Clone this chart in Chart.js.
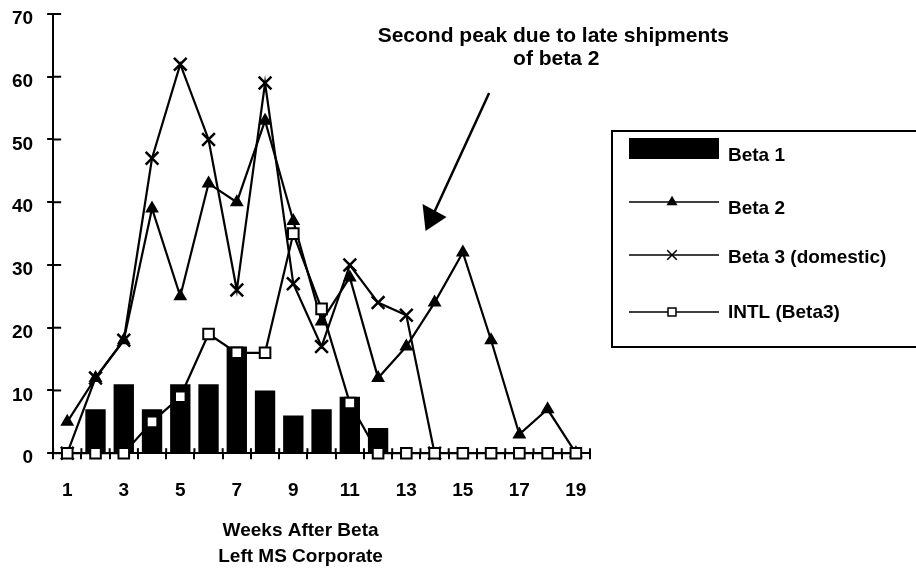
<!DOCTYPE html>
<html>
<head>
<meta charset="utf-8">
<script src="https://cdn.jsdelivr.net/npm/chart.js@4/dist/chart.umd.min.js"></script>
<style>
  html, body { margin: 0; padding: 0; background: #fff; }
</style>
</head>
<body>
<canvas id="myChart" width="916" height="577"></canvas>
<script>
const weeks = ['1', '2', '3', '4', '5', '6', '7', '8', '9', '10', '11', '12', '13', '14', '15', '16', '17', '18', '19'];
const beta1 = [null, 7, 11, 7, 11, 11, 17, 10, 6, 7, 9, 4, null, null, null, null, null, null, null];
const beta2 = [5, 12, 18, 39, 25, 43, 40, 53, 37, 21, 28, 12, 17, 24, 32, 18, 3, 7, 0];
const beta3 = [0, 12, 18, 47, 62, 50, 26, 59, 27, 17, 30, 24, 22, 0, null, null, null, null, null];
const intl = [0, 0, 0, 5, 9, 19, 16, 16, 35, 23, 8, 0, 0, 0, 0, 0, 0, 0, 0];
const yTicks = [0, 10, 20, 30, 40, 50, 60, 70];
const note = ['Second peak due to late shipments', 'of beta 2'];
const axisTitle = ['Weeks After Beta', 'Left MS Corporate'];

const FONT = '"Liberation Sans", Arial, Helvetica, sans-serif';

function line(ctx, x1, y1, x2, y2) {
    ctx.beginPath();
    ctx.moveTo(x1, y1);
    ctx.lineTo(x2, y2);
    ctx.stroke();
}

// tick marks inside the axes, annotation, axis title and boxed legend
const extras = {
    id: 'extras',
    afterDraw(chart) {
        const ctx = chart.ctx;
        const x = chart.scales.x;
        const y = chart.scales.y;
        const area = chart.chartArea;
        ctx.save();
        ctx.strokeStyle = '#000';
        ctx.fillStyle = '#000';
        ctx.lineWidth = 2;

        yTicks.forEach(v => {
            const py = y.getPixelForValue(v);
            line(ctx, area.left, py, area.left + 8, py);
        });
        for (let i = 0; i <= weeks.length; i++) {
            const px = x.getPixelForValue(i - 0.5);
            line(ctx, px, area.bottom, px, area.bottom - 5);
        }

        // annotation text
        ctx.font = 'bold 21px ' + FONT;
        ctx.textAlign = 'center';
        ctx.textBaseline = 'middle';
        const tx = x.getPixelForValue(17.2);
        ctx.fillText(note[0], tx, y.getPixelForValue(66.5));
        ctx.fillText(note[1], tx + 3, y.getPixelForValue(62.8));

        // arrow
        const sx = x.getPixelForValue(14.93), sy = y.getPixelForValue(57.4);
        const ex = x.getPixelForValue(12.68), ey = y.getPixelForValue(35.4);
        ctx.lineWidth = 2.5;
        const ang = Math.atan2(ey - sy, ex - sx);
        line(ctx, sx, sy, ex - 12 * Math.cos(ang), ey - 12 * Math.sin(ang));
        ctx.beginPath();
        ctx.moveTo(ex, ey);
        ctx.lineTo(ex - 3, ey - 27);
        ctx.lineTo(ex + 21, ey - 14);
        ctx.closePath();
        ctx.fill();

        // x axis title
        ctx.font = 'bold 19px ' + FONT;
        const cx = (area.left + area.right) / 2 - 21;
        ctx.fillText(axisTitle[0], cx, area.bottom + 78);
        ctx.fillText(axisTitle[1], cx, area.bottom + 104);

        // legend
        const lx = area.right + 22;
        const ly = area.top + 117;
        ctx.lineWidth = 2;
        ctx.strokeRect(lx, ly, 340, 216);
        ctx.textAlign = 'left';
        const rows = [17, 71, 124, 181];
        const textOff = [8, 7, 3, 1];
        chart.data.datasets.forEach((ds, i) => {
            const ry = ly + rows[i];
            if (ds.type === 'bar') {
                ctx.fillStyle = '#000';
                ctx.fillRect(lx + 17, ry - 10, 90, 21);
            } else {
                ctx.strokeStyle = '#000';
                ctx.lineWidth = 1.5;
                line(ctx, lx + 17, ry, lx + 107, ry);
                ctx.fillStyle = ds.pointBackgroundColor;
                Chart.helpers.drawPoint(ctx, {
                    pointStyle: ds.pointStyle,
                    radius: ds.pointRadius * 0.75,
                    borderWidth: 1.5
                }, lx + 60, ry);
            }
            ctx.fillStyle = '#000';
            ctx.fillText(ds.label, lx + 116, ry + textOff[i]);
        });
        ctx.restore();
    }
};

const ctx = document.getElementById('myChart').getContext('2d');
const myChart = new Chart(ctx, {
    type: 'bar',
    data: {
        labels: weeks,
        datasets: [{
            type: 'bar',
            label: 'Beta 1',
            data: beta1,
            backgroundColor: '#000',
            barPercentage: 0.72,
            categoryPercentage: 1,
            order: 4
        }, {
            type: 'line',
            label: 'Beta 2',
            data: beta2,
            borderColor: '#000',
            borderWidth: 2.2,
            pointStyle: 'triangle',
            pointRadius: 6.5,
            pointBackgroundColor: '#000',
            pointBorderColor: '#000',
            pointBorderWidth: 1.5,
            clip: false,
            order: 3
        }, {
            type: 'line',
            label: 'Beta 3 (domestic)',
            data: beta3,
            borderColor: '#000',
            borderWidth: 2.2,
            pointStyle: 'crossRot',
            pointRadius: 9,
            pointBackgroundColor: '#000',
            pointBorderColor: '#000',
            pointBorderWidth: 2.5,
            clip: false,
            order: 2
        }, {
            type: 'line',
            label: 'INTL (Beta3)',
            data: intl,
            borderColor: '#000',
            borderWidth: 2.2,
            pointStyle: 'rect',
            pointRadius: 7.5,
            pointBackgroundColor: '#fff',
            pointBorderColor: '#000',
            pointBorderWidth: 2,
            clip: false,
            order: 1
        }]
    },
    options: {
        responsive: false,
        animation: false,
        layout: {
            padding: { left: -2, top: 14, right: 326, bottom: 55 }
        },
        plugins: {
            legend: { display: false },
            tooltip: { enabled: false }
        },
        scales: {
            x: {
                offset: true,
                grid: { offset: true, drawOnChartArea: false, tickLength: 6, color: '#000', lineWidth: 2 },
                border: { display: true, color: '#000', width: 2 },
                ticks: {
                    autoSkip: false,
                    maxRotation: 0,
                    padding: 20,
                    color: '#000',
                    font: { family: FONT, size: 19, weight: 'bold' },
                    callback: (v, i) => i % 2 === 0 ? weeks[i] : ''
                }
            },
            y: {
                min: 0,
                max: 70,
                afterBuildTicks: axis => { axis.ticks = yTicks.map(v => ({ value: v })); },
                afterFit: axis => { axis.paddingTop = 0; axis.paddingBottom = 0; },
                grid: { drawOnChartArea: false, tickLength: 6, color: '#000', lineWidth: 2 },
                border: { display: true, color: '#000', width: 2 },
                ticks: {
                    padding: 14,
                    labelOffset: 5,
                    color: '#000',
                    font: { family: FONT, size: 19, weight: 'bold' }
                }
            }
        }
    },
    plugins: [extras]
});
</script>
</body>
</html>
